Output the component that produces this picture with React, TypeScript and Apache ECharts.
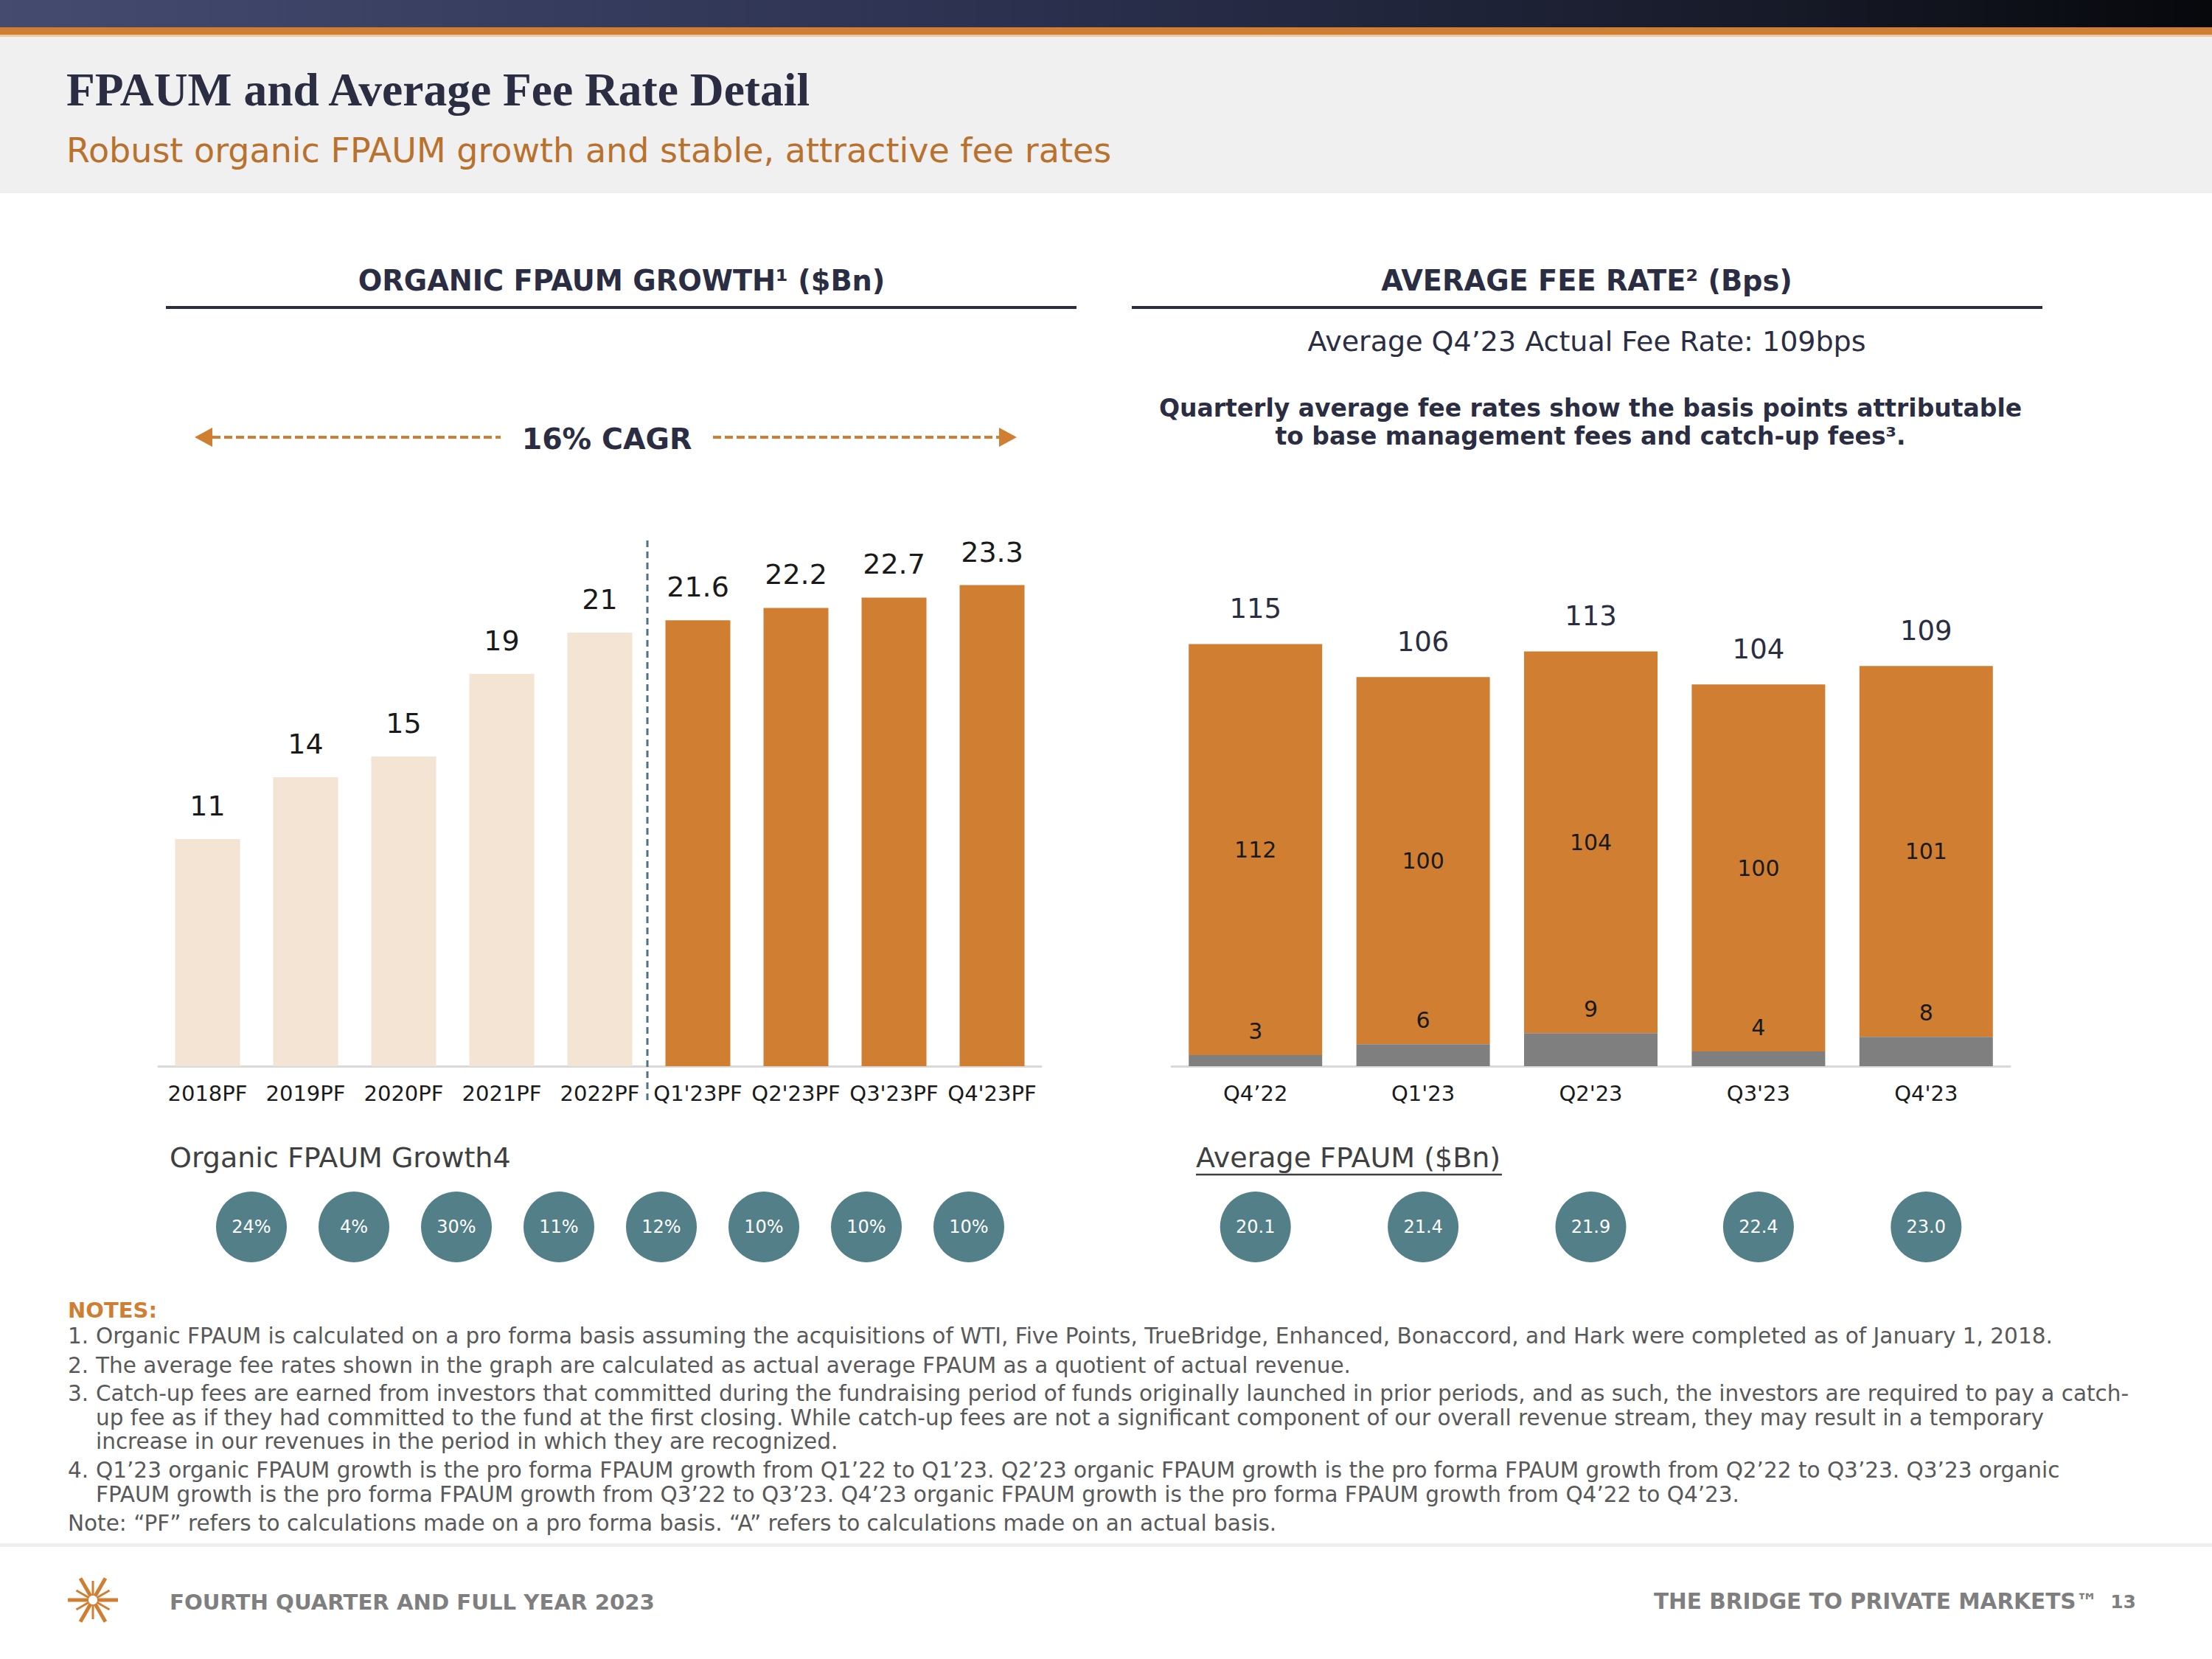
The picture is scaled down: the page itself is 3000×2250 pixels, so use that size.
import React, { useEffect, useRef } from 'react';
import * as echarts from 'echarts';

const W = 3000;
const H = 2250;
const FONT = "'DejaVu Sans', Verdana, sans-serif";
const NAVY = '#2b2d42';
const ORANGE = '#d07f32';
const PEACH = '#f3e4d3';
const GREY_BAR = '#7f7f7f';
const TEAL = '#537f89';

// ---- data ----
const fpaumCategories = ['2018PF', '2019PF', '2020PF', '2021PF', '2022PF', "Q1'23PF", "Q2'23PF", "Q3'23PF", "Q4'23PF"];
const fpaumValues = [11, 14, 15, 19, 21, 21.6, 22.2, 22.7, 23.3];
const annualCount = 5;

const growthCategories = ['g1', 'g2', 'g3', 'g4', 'g5', 'g6', 'g7', 'g8'];
const growthValues = [24, 4, 30, 11, 12, 10, 10, 10];

const feeCategories = ['Q4’22', "Q1'23", "Q2'23", "Q3'23", "Q4'23"];
const baseFeeValues = [112, 100, 104, 100, 101];
const catchUpValues = [3, 6, 9, 4, 8];
const avgFpaumValues = [20.1, 21.4, 21.9, 22.4, 23.0];

const noteLines: [string, string][] = [
  ['1.', 'Organic FPAUM is calculated on a pro forma basis assuming the acquisitions of WTI, Five Points, TrueBridge, Enhanced, Bonaccord, and Hark were completed as of January 1, 2018.'],
  ['2.', 'The average fee rates shown in the graph are calculated as actual average FPAUM as a quotient of actual revenue.'],
  ['3.', 'Catch-up fees are earned from investors that committed during the fundraising period of funds originally launched in prior periods, and as such, the investors are required to pay a catch-'],
  ['', 'up fee as if they had committed to the fund at the first closing. While catch-up fees are not a significant component of our overall revenue stream, they may result in a temporary'],
  ['', 'increase in our revenues in the period in which they are recognized.'],
  ['4.', 'Q1’23 organic FPAUM growth is the pro forma FPAUM growth from Q1’22 to Q1’23. Q2’23 organic FPAUM growth is the pro forma FPAUM growth from Q2’22 to Q3’23. Q3’23 organic'],
  ['', 'FPAUM growth is the pro forma FPAUM growth from Q3’22 to Q3’23. Q4’23 organic FPAUM growth is the pro forma FPAUM growth from Q4’22 to Q4’23.'],
];
const noteY = [1812, 1852, 1890, 1923, 1955, 1994, 2027];
const finalNote = 'Note: “PF” refers to calculations made on a pro forma basis. “A” refers to calculations made on an actual basis.';

function txt(text: string, x: number, y: number, o: any = {}) {
  return {
    type: 'text',
    x,
    y,
    z: 20,
    style: {
      text,
      fontSize: o.size || 30,
      fontFamily: o.family || FONT,
      fontWeight: o.weight || 'normal',
      fill: o.color || NAVY,
      align: o.align || 'left',
      textAlign: o.align || 'left',
      verticalAlign: 'middle',
      textVerticalAlign: 'middle',
    },
  };
}

function buildOption() {
  const graphics: any[] = [];
  // header
  graphics.push({ type: 'rect', z: 1, shape: { x: 0, y: 48, width: W, height: 214 }, style: { fill: '#f0f0f0' } });
  graphics.push({
    type: 'rect', z: 2, shape: { x: 0, y: 0, width: W, height: 38 },
    style: {
      fill: new echarts.graphic.LinearGradient(0, 0, 1, 0, [
        { offset: 0, color: '#444b6f' },
        { offset: 0.45, color: '#2c3150' },
        { offset: 0.8, color: '#171a28' },
        { offset: 1, color: '#07080c' },
      ]),
    },
  });
  graphics.push({ type: 'rect', z: 3, shape: { x: 0, y: 37, width: W, height: 10 }, style: { fill: ORANGE } });
  graphics.push({ type: 'rect', z: 3, shape: { x: 0, y: 47, width: W, height: 3 }, style: { fill: '#ecc9a6' } });
  graphics.push(txt('FPAUM and Average Fee Rate Detail', 90, 121, { size: 63.5, weight: 'bold', family: "'Liberation Serif', 'DejaVu Serif', serif", color: NAVY }));
  graphics.push(txt('Robust organic FPAUM growth and stable, attractive fee rates', 90, 204, { size: 46, color: '#b8722e' }));

  // panel headers
  graphics.push(txt('ORGANIC FPAUM GROWTH¹ ($Bn)', 843, 380, { size: 38.3, weight: 'bold', align: 'center' }));
  graphics.push(txt('AVERAGE FEE RATE² (Bps)', 2152, 380, { size: 38.3, weight: 'bold', align: 'center' }));
  graphics.push({ type: 'line', z: 20, shape: { x1: 225, y1: 417, x2: 1460, y2: 417 }, style: { stroke: NAVY, lineWidth: 4 } });
  graphics.push({ type: 'line', z: 20, shape: { x1: 1535, y1: 417, x2: 2770, y2: 417 }, style: { stroke: NAVY, lineWidth: 4 } });

  graphics.push(txt('Average Q4’23 Actual Fee Rate: 109bps', 2152, 463, { size: 38, align: 'center' }));
  graphics.push(txt('Quarterly average fee rates show the basis points attributable', 2157, 553, { size: 33, weight: 'bold', align: 'center' }));
  graphics.push(txt('to base management fees and catch-up fees³.', 2157, 591, { size: 33, weight: 'bold', align: 'center' }));

  // CAGR arrow
  graphics.push({ type: 'line', z: 20, shape: { x1: 288, y1: 593, x2: 679, y2: 593 }, style: { stroke: ORANGE, lineWidth: 4, lineDash: [11, 5] } });
  graphics.push({ type: 'line', z: 20, shape: { x1: 967, y1: 593, x2: 1356, y2: 593 }, style: { stroke: ORANGE, lineWidth: 4, lineDash: [11, 5] } });
  graphics.push({ type: 'polygon', z: 20, shape: { points: [[264, 593], [288, 580], [288, 606]] }, style: { fill: ORANGE } });
  graphics.push({ type: 'polygon', z: 20, shape: { points: [[1379, 593], [1355, 580], [1355, 606]] }, style: { fill: ORANGE } });
  graphics.push(txt('16% CAGR', 823, 595, { size: 39.5, weight: 'bold', align: 'center' }));

  // divider between annual and quarterly
  graphics.push({ type: 'line', z: 20, shape: { x1: 878, y1: 733, x2: 878, y2: 1492 }, style: { stroke: '#4f7380', lineWidth: 3, lineDash: [9, 6] } });

  // circle row titles
  graphics.push(txt('Organic FPAUM Growth4', 230, 1570, { size: 38, color: '#404040' }));
  graphics.push(txt('Average FPAUM ($Bn)', 1622, 1570, { size: 38, color: '#404040' }));
  graphics.push({ type: 'line', z: 20, shape: { x1: 1622, y1: 1593, x2: 2037, y2: 1593 }, style: { stroke: '#404040', lineWidth: 2.5 } });

  // notes
  graphics.push(txt('NOTES:', 92, 1777, { size: 29, weight: 'bold', color: ORANGE }));
  noteLines.forEach(([num, line], i) => {
    if (num) graphics.push(txt(num, 92, noteY[i], { size: 29.5, color: '#595959' }));
    graphics.push(txt(line, 130, noteY[i], { size: 29.5, color: '#595959' }));
  });
  graphics.push(txt(finalNote, 92, 2066, { size: 29.5, color: '#595959' }));

  // footer
  graphics.push({ type: 'rect', z: 1, shape: { x: 0, y: 2093, width: W, height: 5 }, style: { fill: '#efefef' } });
  const logo: any[] = [];
  for (let k = 0; k < 12; k++) {
    const a = (k * Math.PI) / 6;
    const r1 = 6;
    const r2 = k % 2 === 0 ? 34 : 26;
    logo.push({
      type: 'line',
      shape: { x1: Math.cos(a) * r1, y1: Math.sin(a) * r1, x2: Math.cos(a) * r2, y2: Math.sin(a) * r2 },
      style: { stroke: ORANGE, lineWidth: k % 2 === 0 ? 5 : 3 },
    });
  }
  graphics.push({ type: 'group', x: 126, y: 2170, z: 20, children: logo });
  graphics.push(txt('FOURTH QUARTER AND FULL YEAR 2023', 230, 2173, { size: 29.2, weight: 'bold', color: '#7f7f7f' }));
  graphics.push(txt('THE BRIDGE TO PRIVATE MARKETS™', 2845, 2172, { size: 29.5, weight: 'bold', color: '#7f7f7f', align: 'right' }));
  graphics.push(txt('13', 2897, 2172, { size: 25, weight: 'bold', color: '#7f7f7f', align: 'right' }));

  const catAxisCommon = {
    type: 'category',
    axisTick: { show: false },
    axisLine: { show: true, lineStyle: { color: '#d9d9d9', width: 3 } },
    axisLabel: { fontSize: 29, color: '#1a1a1a', margin: 22, interval: 0, fontFamily: FONT },
  };
  const hiddenCat = { type: 'category', show: false };

  const feeTotals = baseFeeValues.map((v, i) => v + catchUpValues[i]);

  return {
    animation: false,
    backgroundColor: '#ffffff',
    textStyle: { fontFamily: FONT },
    grid: [
      { left: 215, top: 746, width: 1197, height: 700 },
      { left: 1589, top: 749, width: 1137, height: 697 },
      { left: 271.5, top: 1614, width: 1112, height: 100 },
      { left: 1589, top: 1614, width: 1137, height: 100 },
    ],
    xAxis: [
      { ...catAxisCommon, gridIndex: 0, data: fpaumCategories },
      { ...catAxisCommon, gridIndex: 1, data: feeCategories },
      { ...hiddenCat, gridIndex: 2, data: growthCategories },
      { ...hiddenCat, gridIndex: 3, data: feeCategories },
    ],
    yAxis: [
      { type: 'value', gridIndex: 0, min: 0, max: 25, show: false },
      { type: 'value', gridIndex: 1, min: 0, max: 140, show: false },
      { type: 'value', gridIndex: 2, min: -1, max: 1, show: false },
      { type: 'value', gridIndex: 3, min: -1, max: 1, show: false },
    ],
    series: [
      {
        type: 'bar',
        xAxisIndex: 0,
        yAxisIndex: 0,
        data: fpaumValues,
        barWidth: 88,
        itemStyle: { color: (p: any) => (p.dataIndex < annualCount ? PEACH : ORANGE) },
        label: { show: true, position: 'top', distance: 26, fontSize: 38, color: '#1a1a1a', fontFamily: FONT },
      },
      {
        type: 'bar',
        name: 'Catch-up fees',
        xAxisIndex: 1,
        yAxisIndex: 1,
        stack: 'fee',
        z: 3,
        data: catchUpValues,
        barWidth: 181,
        barGap: '-100%',
        itemStyle: { color: GREY_BAR },
        label: { show: true, position: 'top', distance: 18, fontSize: 30, color: '#1a1a1a', fontFamily: FONT },
      },
      {
        type: 'bar',
        name: 'Base management fees',
        xAxisIndex: 1,
        yAxisIndex: 1,
        stack: 'fee',
        data: baseFeeValues,
        barWidth: 181,
        barGap: '-100%',
        itemStyle: { color: ORANGE },
        label: { show: true, position: 'inside', fontSize: 30, color: '#1a1a1a', fontFamily: FONT },
      },
      {
        type: 'bar',
        name: 'Total',
        xAxisIndex: 1,
        yAxisIndex: 1,
        data: feeTotals,
        barWidth: 181,
        barGap: '-100%',
        z: 1,
        silent: true,
        itemStyle: { color: 'rgba(0,0,0,0)' },
        label: { show: true, position: 'top', distance: 29, fontSize: 37, color: NAVY, fontFamily: FONT },
      },
      {
        type: 'scatter',
        xAxisIndex: 2,
        yAxisIndex: 2,
        symbolSize: 96,
        itemStyle: { color: TEAL, opacity: 1 },
        data: growthValues.map((v, i) => [i, 0, v]),
        label: { show: true, position: 'inside', fontSize: 24, color: '#ffffff', fontFamily: FONT, formatter: (p: any) => p.value[2] + '%' },
      },
      {
        type: 'scatter',
        xAxisIndex: 3,
        yAxisIndex: 3,
        symbolSize: 96,
        itemStyle: { color: TEAL, opacity: 1 },
        data: avgFpaumValues.map((v, i) => [i, 0, v]),
        label: { show: true, position: 'inside', fontSize: 24, color: '#ffffff', fontFamily: FONT, formatter: (p: any) => Number(p.value[2]).toFixed(1) },
      },
    ],
    graphic: graphics,
  };
}

export default function App() {
  const ref = useRef<HTMLDivElement>(null);
  useEffect(() => {
    document.body.style.margin = '0';
    const chart = echarts.init(ref.current!, undefined, { renderer: 'svg', width: W, height: H });
    chart.setOption(buildOption() as any);
    return () => chart.dispose();
  }, []);
  return <div ref={ref} style={{ width: W, height: H, position: 'absolute', left: 0, top: 0 }} />;
}
